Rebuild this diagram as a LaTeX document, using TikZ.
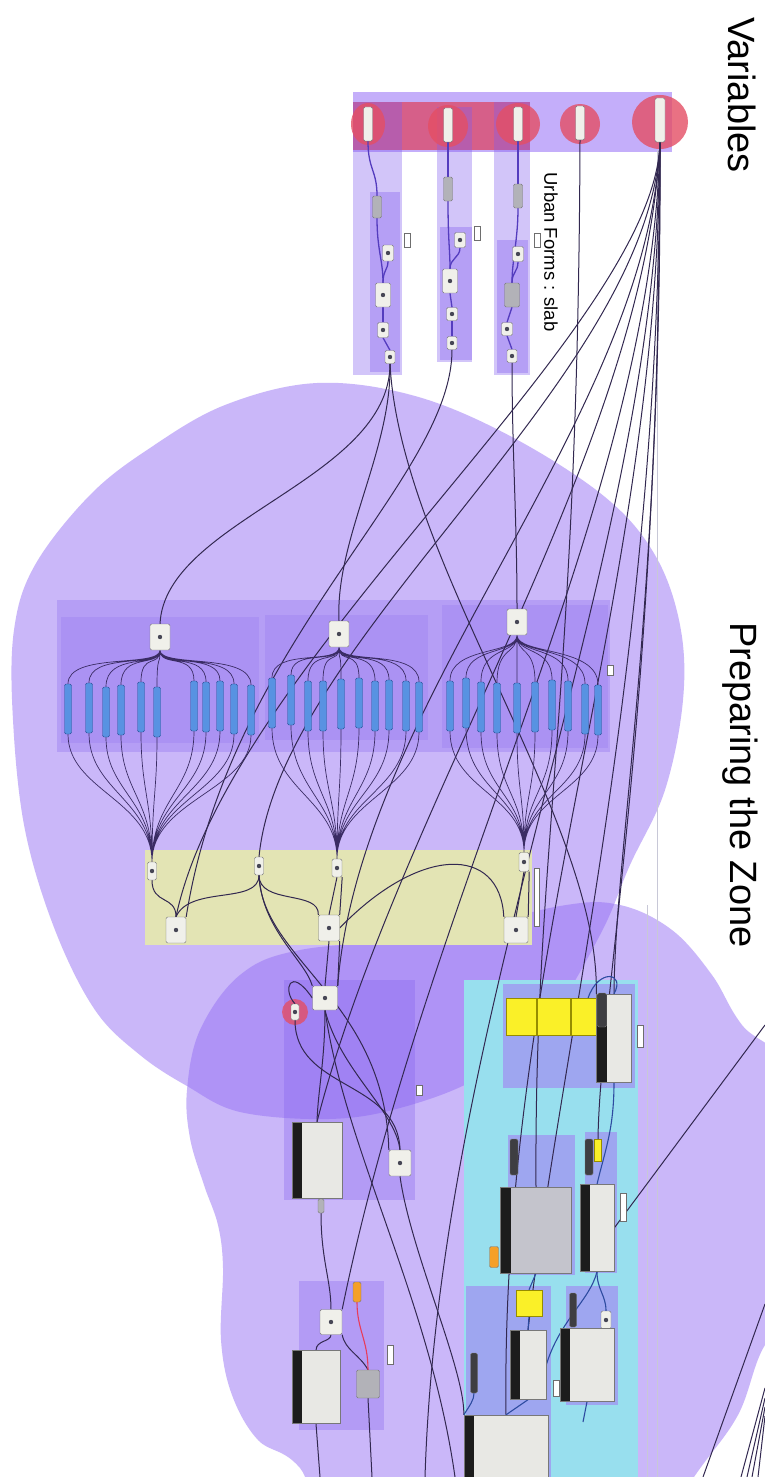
\documentclass[tikz,border=0pt]{standalone}
\usepackage{fontspec}
\setmainfont{Liberation Sans}
\usetikzlibrary{calc}

\pgfdeclarelayer{bg}
\pgfdeclarelayer{wires}
\pgfsetlayers{bg,wires,main}

\tikzset{every picture/.style={line width=0.75pt}}
\tikzset{
  blob/.style={fill={rgb, 255:red, 150; green, 112; blue, 245}, fill opacity=0.5},
  grpvar/.style={fill={rgb, 255:red, 196; green, 174; blue, 250}},
  grpred/.style={fill={rgb, 255:red, 218; green, 82; blue, 118}, fill opacity=0.85},
  grpstrip/.style={fill={rgb, 255:red, 128; green, 90; blue, 238}, fill opacity=0.35},
  redcirc/.style={fill={rgb, 255:red, 228; green, 78; blue, 100}, fill opacity=0.8},
  grppanel/.style={fill={rgb, 255:red, 120; green, 84; blue, 235}, fill opacity=0.25},
  grpsub/.style={fill={rgb, 255:red, 120; green, 84; blue, 235}, fill opacity=0.15},
  grpyellow/.style={fill={rgb, 255:red, 227; green, 228; blue, 180}},
  grpdeep/.style={fill={rgb, 255:red, 128; green, 92; blue, 238}, fill opacity=0.3},
  grpcyan/.style={fill={rgb, 255:red, 152; green, 223; blue, 238}},
  grpblue/.style={fill={rgb, 255:red, 158; green, 166; blue, 240}},
  thinrule/.style={draw={rgb, 255:red, 200; green, 200; blue, 215}, line width=0.4pt},
  wire/.style={draw={rgb, 255:red, 50; green, 40; blue, 80}, line width=1pt},
  fanwire/.style={draw={rgb, 255:red, 58; green, 44; blue, 100}, line width=0.7pt},
  chainwire/.style={draw={rgb, 255:red, 84; green, 60; blue, 190}, line width=1.3pt},
  bluewire/.style={draw={rgb, 255:red, 45; green, 75; blue, 160}, line width=1.1pt},
  redwire/.style={draw={rgb, 255:red, 232; green, 60; blue, 90}, line width=1.1pt},
  ghcomp/.style={draw={rgb, 255:red, 120; green, 120; blue, 120}, fill={rgb, 255:red, 240; green, 240; blue, 234}, line width=0.4pt, rounded corners=1.5pt, inner sep=0pt},
  ghicon/.style={ghcomp, path picture={\fill[fill={rgb, 255:red, 70; green, 70; blue, 85}] (path picture bounding box.center) circle (2.2pt);}},
  ghgray/.style={ghcomp, fill={rgb, 255:red, 178; green, 178; blue, 184}},
  ghvar/.style={ghcomp, path picture={\fill[fill={rgb, 255:red, 30; green, 30; blue, 30}] (path picture bounding box.south west) rectangle ($(path picture bounding box.south east)+(0,-6)$);}},
  ghbig/.style={ghcomp, rounded corners=0pt, fill={rgb, 255:red, 232; green, 232; blue, 228}, path picture={\fill[fill={rgb, 255:red, 28; green, 28; blue, 28}] (path picture bounding box.north west) rectangle ($(path picture bounding box.south west)+(10,0)$);}},
  ghdark/.style={ghcomp, fill={rgb, 255:red, 62; green, 62; blue, 66}},
  ghyellow/.style={draw={rgb, 255:red, 150; green, 140; blue, 0}, fill={rgb, 255:red, 250; green, 240; blue, 40}, line width=0.4pt, inner sep=0pt},
  ghorange/.style={ghcomp, fill={rgb, 255:red, 245; green, 160; blue, 40}},
  ghtag/.style={draw={rgb, 255:red, 110; green, 110; blue, 110}, fill=white, line width=0.4pt, inner sep=0pt},
  blueslider/.style={draw={rgb, 255:red, 40; green, 78; blue, 150}, fill={rgb, 255:red, 88; green, 146; blue, 226}, line width=0.4pt, rounded corners=1.5pt, inner sep=0pt, minimum width=7pt, minimum height=50pt},
  title/.style={rotate=-90, inner sep=0pt}
}

\begin{document}
\begin{tikzpicture}[x=1pt,y=1pt,yscale=-1,xscale=1]
	\useasboundingbox (0,0) rectangle (765,1477);
	\clip (0,0) rectangle (765,1477);

	\begin{pgfonlayer}{bg}
	\fill[white] (0,0) rectangle (765,1477);
	%Shape: Blob, preparing the zone (upper)
	\fill[blob] plot[smooth cycle, tension=0.6] coordinates {(317,383) (415,396) (512,437) (605,497) (655,555) (680,625) (683,700) (665,790) (630,865) (600,935) (545,1025) (478,1078) (400,1108) (329,1119) (240,1112) (187,1086) (140,1055) (95,1010) (55,930) (25,830) (13,720) (14,630) (35,565) (90,495) (150,448) (225,405)};
	%Shape: Blob, preparing the zone (lower)
	\fill[blob] plot[smooth cycle, tension=0.6] coordinates {(240,975) (300,950) (433,936) (560,906) (620,905) (672,930) (712,975) (742,1025) (800,1090) (810,1300) (765,1345) (738,1415) (694,1477) (640,1560) (360,1560) (300,1468) (258,1440) (232,1395) (221,1340) (223,1268) (218,1225) (204,1185) (190,1138) (187,1090) (200,1030)};

	%Shape: Rectangle, variables group
	\fill[grpvar] (353,92) rectangle (672,152);
	\fill[grpred] (353,102) rectangle (530,150);
	\fill[grpstrip] (353,102) rectangle (402,375);
	\fill[grpstrip] (437,107) rectangle (472,362);
	\fill[grpstrip] (494,102) rectangle (530,375);
	\fill[grpstrip] (370,192) rectangle (400,372);
	\fill[grpstrip] (440,227) rectangle (472,360);
	\fill[grpstrip] (497,240) rectangle (528,373);
	%Shape: Circle, slider marks
	\fill[redcirc] (368,124) ellipse (17 and 21);
	\fill[redcirc] (448,126) ellipse (20 and 21);
	\fill[redcirc] (518,124) ellipse (22 and 21);
	\fill[redcirc] (580,124) ellipse (20 and 20);
	\fill[redcirc] (660,122) ellipse (28 and 27);

	%Shape: Rectangle, slider panels
	\fill[grppanel] (57,600) rectangle (610,752);
	\fill[grpsub] (61,617) rectangle (259,743);
	\fill[grpsub] (265,615) rectangle (428,740);
	\fill[grpsub] (442,605) rectangle (608,748);
	%Shape: Rectangle, merge group
	\fill[grpyellow] (145,850) rectangle (532,945);
	%Shape: Rectangle, left groups
	\fill[grpdeep] (284,980) rectangle (415,1200);
	\fill[grpdeep] (299,1281) rectangle (384,1430);
	\fill[redcirc] (295,1012) circle (13);
	%Shape: Rectangle, zone group
	\fill[grpcyan] (464,980) rectangle (638,1477);
	\fill[grpblue] (503,984) rectangle (635,1088);
	\fill[grpblue] (508,1135) rectangle (575,1275);
	\fill[grpblue] (585,1132) rectangle (617,1273);
	\fill[grpblue] (466,1286) rectangle (551,1477);
	\fill[grpblue] (566,1286) rectangle (618,1405);
	%Straight Lines, canvas guides
	\draw[thinrule] (657,150) -- (657,1477);
	\draw[thinrule] (647,905) -- (647,1477);
	\end{pgfonlayer}

	% Variables
	\node[ghvar, minimum width=9pt, minimum height=34pt] (v1) at (368,124) {};
	\node[ghvar, minimum width=9pt, minimum height=34pt] (v2) at (448,125) {};
	\node[ghvar, minimum width=9pt, minimum height=34pt] (v3) at (518,124) {};
	\node[ghvar, minimum width=9pt, minimum height=34pt] (v4) at (580,123) {};
	\node[ghvar, minimum width=10pt, minimum height=44pt] (v5) at (660,120) {};
	% Urban form chains
	\node[ghgray, minimum width=9pt, minimum height=22pt] (a1) at (377,207) {};
	\node[ghicon, minimum width=11pt, minimum height=16pt] (a2) at (388,253) {};
	\node[ghicon, minimum width=15pt, minimum height=24pt] (a3) at (383,295) {};
	\node[ghicon, minimum width=11pt, minimum height=15pt] (a4) at (383,330) {};
	\node[ghicon, minimum width=10pt, minimum height=13pt] (a5) at (390,357) {};
	\node[ghgray, minimum width=9pt, minimum height=24pt] (b1) at (448,189) {};
	\node[ghicon, minimum width=11pt, minimum height=15pt] (b2) at (460,240) {};
	\node[ghicon, minimum width=15pt, minimum height=24pt] (b3) at (450,281) {};
	\node[ghicon, minimum width=11pt, minimum height=13pt] (b4) at (452,314) {};
	\node[ghicon, minimum width=10pt, minimum height=13pt] (b5) at (452,343) {};
	\node[ghgray, minimum width=9pt, minimum height=24pt] (c1) at (518,196) {};
	\node[ghicon, minimum width=11pt, minimum height=15pt] (c2) at (518,254) {};
	\node[ghgray, minimum width=15pt, minimum height=24pt] (c3) at (512,295) {};
	\node[ghicon, minimum width=11pt, minimum height=13pt] (c4) at (507,329) {};
	\node[ghicon, minimum width=10pt, minimum height=13pt] (c5) at (512,356) {};
	\node[ghtag, minimum width=6pt, minimum height=14pt] (ta) at (407,240) {};
	\node[ghtag, minimum width=6pt, minimum height=14pt] (tb) at (477,233) {};
	\node[ghtag, minimum width=6pt, minimum height=14pt] (tc) at (537,240) {};

	% List items
	\node[ghicon, minimum width=20pt, minimum height=26pt] (la) at (160,637) {};
	\node[ghicon, minimum width=20pt, minimum height=26pt] (lb) at (339,634) {};
	\node[ghicon, minimum width=20pt, minimum height=26pt] (lc) at (517,622) {};
	\node[ghtag, minimum width=6pt, minimum height=10pt] (tp) at (610,670) {};
	\node[blueslider] (pa1) at (68,709) {};
	\node[blueslider] (pa2) at (89,708) {};
	\node[blueslider] (pa3) at (106,712) {};
	\node[blueslider] (pa4) at (121,710) {};
	\node[blueslider] (pa5) at (141,707) {};
	\node[blueslider] (pa6) at (157,712) {};
	\node[blueslider] (pa7) at (194,706) {};
	\node[blueslider] (pa8) at (206,707) {};
	\node[blueslider] (pa9) at (220,706) {};
	\node[blueslider] (pa10) at (234,709) {};
	\node[blueslider] (pa11) at (251,710) {};
	\node[blueslider] (pb1) at (272,703) {};
	\node[blueslider] (pb2) at (291,700) {};
	\node[blueslider] (pb3) at (308,706) {};
	\node[blueslider] (pb4) at (323,706) {};
	\node[blueslider] (pb5) at (341,704) {};
	\node[blueslider] (pb6) at (359,703) {};
	\node[blueslider] (pb7) at (375,706) {};
	\node[blueslider] (pb8) at (389,705) {};
	\node[blueslider] (pb9) at (406,706) {};
	\node[blueslider] (pb10) at (419,707) {};
	\node[blueslider] (pc1) at (450,706) {};
	\node[blueslider] (pc2) at (466,703) {};
	\node[blueslider] (pc3) at (481,707) {};
	\node[blueslider] (pc4) at (497,708) {};
	\node[blueslider] (pc5) at (517,708) {};
	\node[blueslider] (pc6) at (535,707) {};
	\node[blueslider] (pc7) at (552,705) {};
	\node[blueslider] (pc8) at (568,706) {};
	\node[blueslider] (pc9) at (585,709) {};
	\node[blueslider] (pc10) at (598,710) {};

	% Merge
	\node[ghicon, minimum width=9pt, minimum height=18pt] (y1) at (152,871) {};
	\node[ghicon, minimum width=9pt, minimum height=18pt] (y2) at (259,866) {};
	\node[ghicon, minimum width=10pt, minimum height=18pt] (y3) at (337,868) {};
	\node[ghicon, minimum width=10pt, minimum height=19pt] (y4) at (524,862) {};
	\node[ghicon, minimum width=20pt, minimum height=26pt] (y5) at (176,930) {};
	\node[ghicon, minimum width=21pt, minimum height=26pt] (y6) at (329,928) {};
	\node[ghicon, minimum width=24pt, minimum height=26pt] (y7) at (516,930) {};
	\node[ghtag, minimum width=5pt, minimum height=58pt] (ty) at (537,897) {};

	% Zone geometry
	\node[ghicon, minimum width=25pt, minimum height=24pt] (d1) at (325,998) {};
	\node[ghicon, minimum width=8pt, minimum height=16pt] (dr) at (295,1012) {};
	\node[ghbig, minimum width=50pt, minimum height=76pt] (d2) at (317,1160) {};
	\node[ghicon, minimum width=22pt, minimum height=26pt] (d3) at (400,1163) {};
	\node[ghtag, minimum width=6pt, minimum height=10pt] (td) at (419,1090) {};
	\node[ghgray, minimum width=6pt, minimum height=14pt] (dsm) at (321,1206) {};
	\node[ghicon, minimum width=22pt, minimum height=25pt] (k1) at (331,1322) {};
	\node[ghorange, minimum width=8pt, minimum height=20pt] (ko) at (357,1292) {};
	\node[ghgray, minimum width=23pt, minimum height=28pt] (k2) at (368,1384) {};
	\node[ghbig, minimum width=48pt, minimum height=73pt] (k3) at (316,1387) {};
	\node[ghtag, minimum width=6pt, minimum height=19pt] (tk) at (390,1355) {};

	% Honeybee zone
	\node[ghyellow, minimum width=30pt, minimum height=37pt] (eb1) at (521,1017) {};
	\node[ghyellow, minimum width=33pt, minimum height=37pt] (eb2) at (554,1017) {};
	\node[ghyellow, minimum width=34pt, minimum height=37pt] (eb3) at (588,1017) {};
	\node[ghbig, minimum width=35pt, minimum height=88pt] (e1) at (614,1038) {};
	\node[ghdark, minimum width=9pt, minimum height=34pt] (e0) at (602,1010) {};
	\node[ghtag, minimum width=6pt, minimum height=22pt] (te) at (640,1036) {};
	\node[ghdark, minimum width=8pt, minimum height=36pt] (f0) at (514,1157) {};
	\node[ghbig, fill={rgb, 255:red, 196; green, 196; blue, 204}, minimum width=71pt, minimum height=86pt] (f1) at (536,1230) {};
	\node[ghorange, minimum width=9pt, minimum height=21pt] (fo) at (494,1257) {};
	\node[ghdark, minimum width=8pt, minimum height=36pt] (g0) at (589,1157) {};
	\node[ghyellow, minimum width=7pt, minimum height=22pt] (gy) at (598,1150) {};
	\node[ghbig, minimum width=34pt, minimum height=87pt] (g1) at (597,1228) {};
	\node[ghtag, minimum width=6pt, minimum height=28pt] (tg) at (623,1207) {};
	\node[ghyellow, minimum width=26pt, minimum height=26pt] (hy) at (529,1303) {};
	\node[ghdark, minimum width=7pt, minimum height=40pt] (h0) at (474,1373) {};
	\node[ghbig, minimum width=36pt, minimum height=69pt] (h1) at (528,1365) {};
	\node[ghdark, minimum width=7pt, minimum height=34pt] (i0) at (573,1310) {};
	\node[ghicon, minimum width=10pt, minimum height=18pt] (ir) at (606,1320) {};
	\node[ghbig, minimum width=54pt, minimum height=73pt] (i1) at (587,1365) {};
	\node[ghtag, minimum width=6pt, minimum height=16pt] (ti) at (556,1388) {};
	\node[ghbig, minimum width=84pt, minimum height=70pt] (j) at (506,1450) {};

	% Free ends
	\coordinate (wb1) at (425,1477);
	\coordinate (wb2) at (455,1477);
	\coordinate (wk2) at (372,1477);
	\coordinate (wk3) at (320,1477);
	\coordinate (iend) at (583,1422);
	\coordinate (rdiag) at (765,1025);
	\coordinate (rlow) at (765,1304);
	\coordinate (rlowend) at (703,1477);
	\coordinate (br1) at (765,1388);
	\coordinate (br2) at (765,1398);
	\coordinate (br3) at (765,1407);
	\coordinate (br4) at (765,1416);
	\coordinate (bre1) at (741,1477);
	\coordinate (bre2) at (747,1477);
	\coordinate (bre3) at (752,1477);
	\coordinate (bre4) at (758,1477);

	\begin{pgfonlayer}{wires}
	%Straight Lines, urban form chains
	\draw[chainwire] (v1.south) .. controls (368,170) and (377,170) .. (a1.north);
	\draw[chainwire] (a1.south) .. controls (377,250) and (383,260) .. (a3.north);
	\draw[chainwire] (a2.south) .. controls (388,270) and (383,270) .. (a3.north);
	\draw[chainwire] (a3.south) -- (a4.north);
	\draw[chainwire] (a4.south) -- (a5.north);
	\draw[chainwire] (v2.south) -- (b1.north);
	\draw[chainwire] (b1.south) .. controls (448,240) and (450,250) .. (b3.north);
	\draw[chainwire] (b2.south) .. controls (460,258) and (450,258) .. (b3.north);
	\draw[chainwire] (b3.south) -- (b4.north);
	\draw[chainwire] (b4.south) -- (b5.north);
	\draw[chainwire] (v3.south) -- (c1.north);
	\draw[chainwire] (c1.south) .. controls (518,240) and (512,260) .. (c3.north);
	\draw[chainwire] (c2.south) .. controls (518,272) and (512,272) .. (c3.north);
	\draw[chainwire] (c3.south) -- (c4.north);
	\draw[chainwire] (c4.south) -- (c5.north);

	%Straight Lines, form outputs
	\draw[wire] (a5.south) .. controls (390,480) and (165,520) .. (la.north);
	\draw[wire] (a5.south) .. controls (392,450) and (335,540) .. (lb.north);
	\draw[wire] (a5.south) .. controls (400,560) and (600,820) .. (e1.north west);
	\draw[wire] (b5.south) .. controls (452,480) and (230,640) .. (y5.north east);
	\draw[wire] (c5.south) .. controls (512,450) and (517,520) .. (lc.north);

	%Straight Lines, variables
	\draw[wire] (v4.south) .. controls (578,700) and (534,850) .. (f1.north);
	\draw[wire] (v5.south) .. controls (655,330) and (230,660) .. (y5.north);
	\draw[wire] (v5.south) .. controls (650,380) and (280,640) .. (y2.north);
	\draw[wire] (v5.south) .. controls (648,420) and (360,700) .. (d1.north east);
	\draw[wire] (v5.south) .. controls (645,450) and (400,800) .. (d2.north);
	\draw[wire] (v5.south) .. controls (652,500) and (430,880) .. (k1.north east);
	\draw[wire] (v5.south) .. controls (656,560) and (440,1000) .. (wb1);
	\draw[wire] (v5.south) .. controls (658,600) and (500,950) .. (j.north);
	\draw[wire] (v5.south) .. controls (660,650) and (560,1050) .. (h1.north);
	\draw[wire] (v5.south) .. controls (662,600) and (615,850) .. (e1.north);
	\draw[wire] (v5.south) .. controls (660,700) and (600,1000) .. (gy.north);

	%Straight Lines, list fans
	\draw[fanwire] (la.south) .. controls (160,668) and (68,652) .. (pa1.north)
		(la.south) .. controls (160,668) and (89,652) .. (pa2.north)
		(la.south) .. controls (160,668) and (106,652) .. (pa3.north)
		(la.south) .. controls (160,668) and (121,652) .. (pa4.north)
		(la.south) .. controls (160,668) and (141,652) .. (pa5.north)
		(la.south) .. controls (160,668) and (157,652) .. (pa6.north)
		(la.south) .. controls (160,668) and (194,652) .. (pa7.north)
		(la.south) .. controls (160,668) and (206,652) .. (pa8.north)
		(la.south) .. controls (160,668) and (220,652) .. (pa9.north)
		(la.south) .. controls (160,668) and (234,652) .. (pa10.north)
		(la.south) .. controls (160,668) and (251,652) .. (pa11.north);
	\draw[fanwire] (lb.south) .. controls (339,665) and (272,648) .. (pb1.north)
		(lb.south) .. controls (339,665) and (291,648) .. (pb2.north)
		(lb.south) .. controls (339,665) and (308,648) .. (pb3.north)
		(lb.south) .. controls (339,665) and (323,648) .. (pb4.north)
		(lb.south) .. controls (339,665) and (341,648) .. (pb5.north)
		(lb.south) .. controls (339,665) and (359,648) .. (pb6.north)
		(lb.south) .. controls (339,665) and (375,648) .. (pb7.north)
		(lb.south) .. controls (339,665) and (389,648) .. (pb8.north)
		(lb.south) .. controls (339,665) and (406,648) .. (pb9.north)
		(lb.south) .. controls (339,665) and (419,648) .. (pb10.north);
	\draw[fanwire] (lc.south) .. controls (517,655) and (450,646) .. (pc1.north)
		(lc.south) .. controls (517,655) and (466,646) .. (pc2.north)
		(lc.south) .. controls (517,655) and (481,646) .. (pc3.north)
		(lc.south) .. controls (517,655) and (497,646) .. (pc4.north)
		(lc.south) .. controls (517,655) and (517,646) .. (pc5.north)
		(lc.south) .. controls (517,655) and (535,646) .. (pc6.north)
		(lc.south) .. controls (517,655) and (552,646) .. (pc7.north)
		(lc.south) .. controls (517,655) and (568,646) .. (pc8.north)
		(lc.south) .. controls (517,655) and (585,646) .. (pc9.north)
		(lc.south) .. controls (517,655) and (598,646) .. (pc10.north);
	\draw[fanwire] (pa1.south) .. controls (68,790) and (152,800) .. (y1.north)
		(pa2.south) .. controls (89,790) and (152,800) .. (y1.north)
		(pa3.south) .. controls (106,790) and (152,800) .. (y1.north)
		(pa4.south) .. controls (121,790) and (152,800) .. (y1.north)
		(pa5.south) .. controls (141,790) and (152,800) .. (y1.north)
		(pa6.south) .. controls (157,790) and (152,800) .. (y1.north)
		(pa7.south) .. controls (194,790) and (152,800) .. (y1.north)
		(pa8.south) .. controls (206,790) and (152,800) .. (y1.north)
		(pa9.south) .. controls (220,790) and (152,800) .. (y1.north)
		(pa10.south) .. controls (234,790) and (152,800) .. (y1.north)
		(pa11.south) .. controls (251,790) and (152,800) .. (y1.north);
	\draw[fanwire] (pb1.south) .. controls (272,790) and (337,800) .. (y3.north)
		(pb2.south) .. controls (291,790) and (337,800) .. (y3.north)
		(pb3.south) .. controls (308,790) and (337,800) .. (y3.north)
		(pb4.south) .. controls (323,790) and (337,800) .. (y3.north)
		(pb5.south) .. controls (341,790) and (337,800) .. (y3.north)
		(pb6.south) .. controls (359,790) and (337,800) .. (y3.north)
		(pb7.south) .. controls (375,790) and (337,800) .. (y3.north)
		(pb8.south) .. controls (389,790) and (337,800) .. (y3.north)
		(pb9.south) .. controls (406,790) and (337,800) .. (y3.north)
		(pb10.south) .. controls (419,790) and (337,800) .. (y3.north);
	\draw[fanwire] (pc1.south) .. controls (450,790) and (524,795) .. (y4.north)
		(pc2.south) .. controls (466,790) and (524,795) .. (y4.north)
		(pc3.south) .. controls (481,790) and (524,795) .. (y4.north)
		(pc4.south) .. controls (497,790) and (524,795) .. (y4.north)
		(pc5.south) .. controls (517,790) and (524,795) .. (y4.north)
		(pc6.south) .. controls (535,790) and (524,795) .. (y4.north)
		(pc7.south) .. controls (552,790) and (524,795) .. (y4.north)
		(pc8.south) .. controls (568,790) and (524,795) .. (y4.north)
		(pc9.south) .. controls (585,790) and (524,795) .. (y4.north)
		(pc10.south) .. controls (598,790) and (524,795) .. (y4.north);

	%Straight Lines, merge
	\draw[wire] (y1.south) .. controls (152,905) and (176,895) .. (y5.north);
	\draw[wire] (y2.south) .. controls (259,905) and (190,885) .. (y5.north);
	\draw[wire] (y2.south) .. controls (259,905) and (320,890) .. (y6.north west);
	\draw[wire] (y2.south) .. controls (262,930) and (305,960) .. (d1.north west);
	\draw[wire] (y2.south) .. controls (262,960) and (385,1000) .. (d3.north west);
	\draw[wire] (y3.south) -- (y6.north);
	\draw[wire] (y3.south east) -- (y6.north east);
	\draw[wire] (y4.south) -- (y7.north);
	\draw[wire] (y4.south east) -- (y7.north east);
	\draw[wire] (y6.east) .. controls (420,845) and (500,845) .. (y7.north west);

	%Straight Lines, zone geometry
	\draw[wire] (y6.south) -- (d1.north);
	\draw[wire] (y6.south east) -- (d1.north east);
	\draw[wire] (d1.west) .. controls (290,965) and (282,990) .. (dr.north);
	\draw[wire] (dr.south) .. controls (295,1090) and (398,1080) .. (d3.north);
	\draw[wire] (d1.south) .. controls (325,1060) and (318,1090) .. (d2.north);
	\draw[wire] (d1.south) .. controls (340,1070) and (395,1110) .. (d3.north);
	\draw[wire] (d1.south) .. controls (345,1150) and (430,1300) .. (wb2);
	\draw[wire] (d2.south) -- (dsm.north);
	\draw[wire] (dsm.south) .. controls (321,1260) and (331,1280) .. (k1.north);
	\draw[wire] (d3.south) .. controls (410,1250) and (465,1370) .. (j.north west);
	\draw[wire] (k1.south) .. controls (331,1342) and (316,1340) .. (k3.north);
	\draw[wire] (k1.south east) .. controls (345,1350) and (360,1355) .. (k2.north);
	\draw[redwire] (ko.south) .. controls (357,1330) and (368,1340) .. (k2.north);
	\draw[wire] (k2.south) -- (wk2);
	\draw[wire] (k3.south) -- (wk3);

	%Straight Lines, honeybee zone
	\draw[bluewire] (eb3.north) .. controls (598,968) and (626,972) .. (e1.north);
	\draw[bluewire] (e1.south) .. controls (614,1130) and (605,1150) .. (g1.north);
	\draw[bluewire] (f1.south) -- (hy.north);
	\draw[bluewire] (hy.south) -- (h1.north);
	\draw[bluewire] (g1.south) .. controls (597,1290) and (606,1295) .. (ir.north);
	\draw[bluewire] (g1.south) .. controls (590,1300) and (560,1320) .. (h1.east);
	\draw[bluewire] (h1.south) -- (j.north);
	\draw[bluewire] (h0.south) .. controls (474,1400) and (470,1405) .. (j.north west);
	\draw[bluewire] (i1.south) -- (iend);
	\draw[wire] (rdiag) -- (g1.east);
	\draw[wire] (rlow) -- (rlowend);
	\draw[wire] (br1) -- (bre1);
	\draw[wire] (br2) -- (bre2);
	\draw[wire] (br3) -- (bre3);
	\draw[wire] (br4) -- (bre4);
	\end{pgfonlayer}

	% Text Node
	\node[title, font=\fontsize{38}{40}\selectfont] (ttlvar) at (742,95) {Variables};
	% Text Node
	\node[title, font=\fontsize{38}{40}\selectfont] (ttlzone) at (740,785) {Preparing the Zone};
	% Text Node
	\node[title, font=\fontsize{18.5}{20}\selectfont] (ttlurban) at (551,252) {Urban Forms : slab};
\end{tikzpicture}
\end{document}
